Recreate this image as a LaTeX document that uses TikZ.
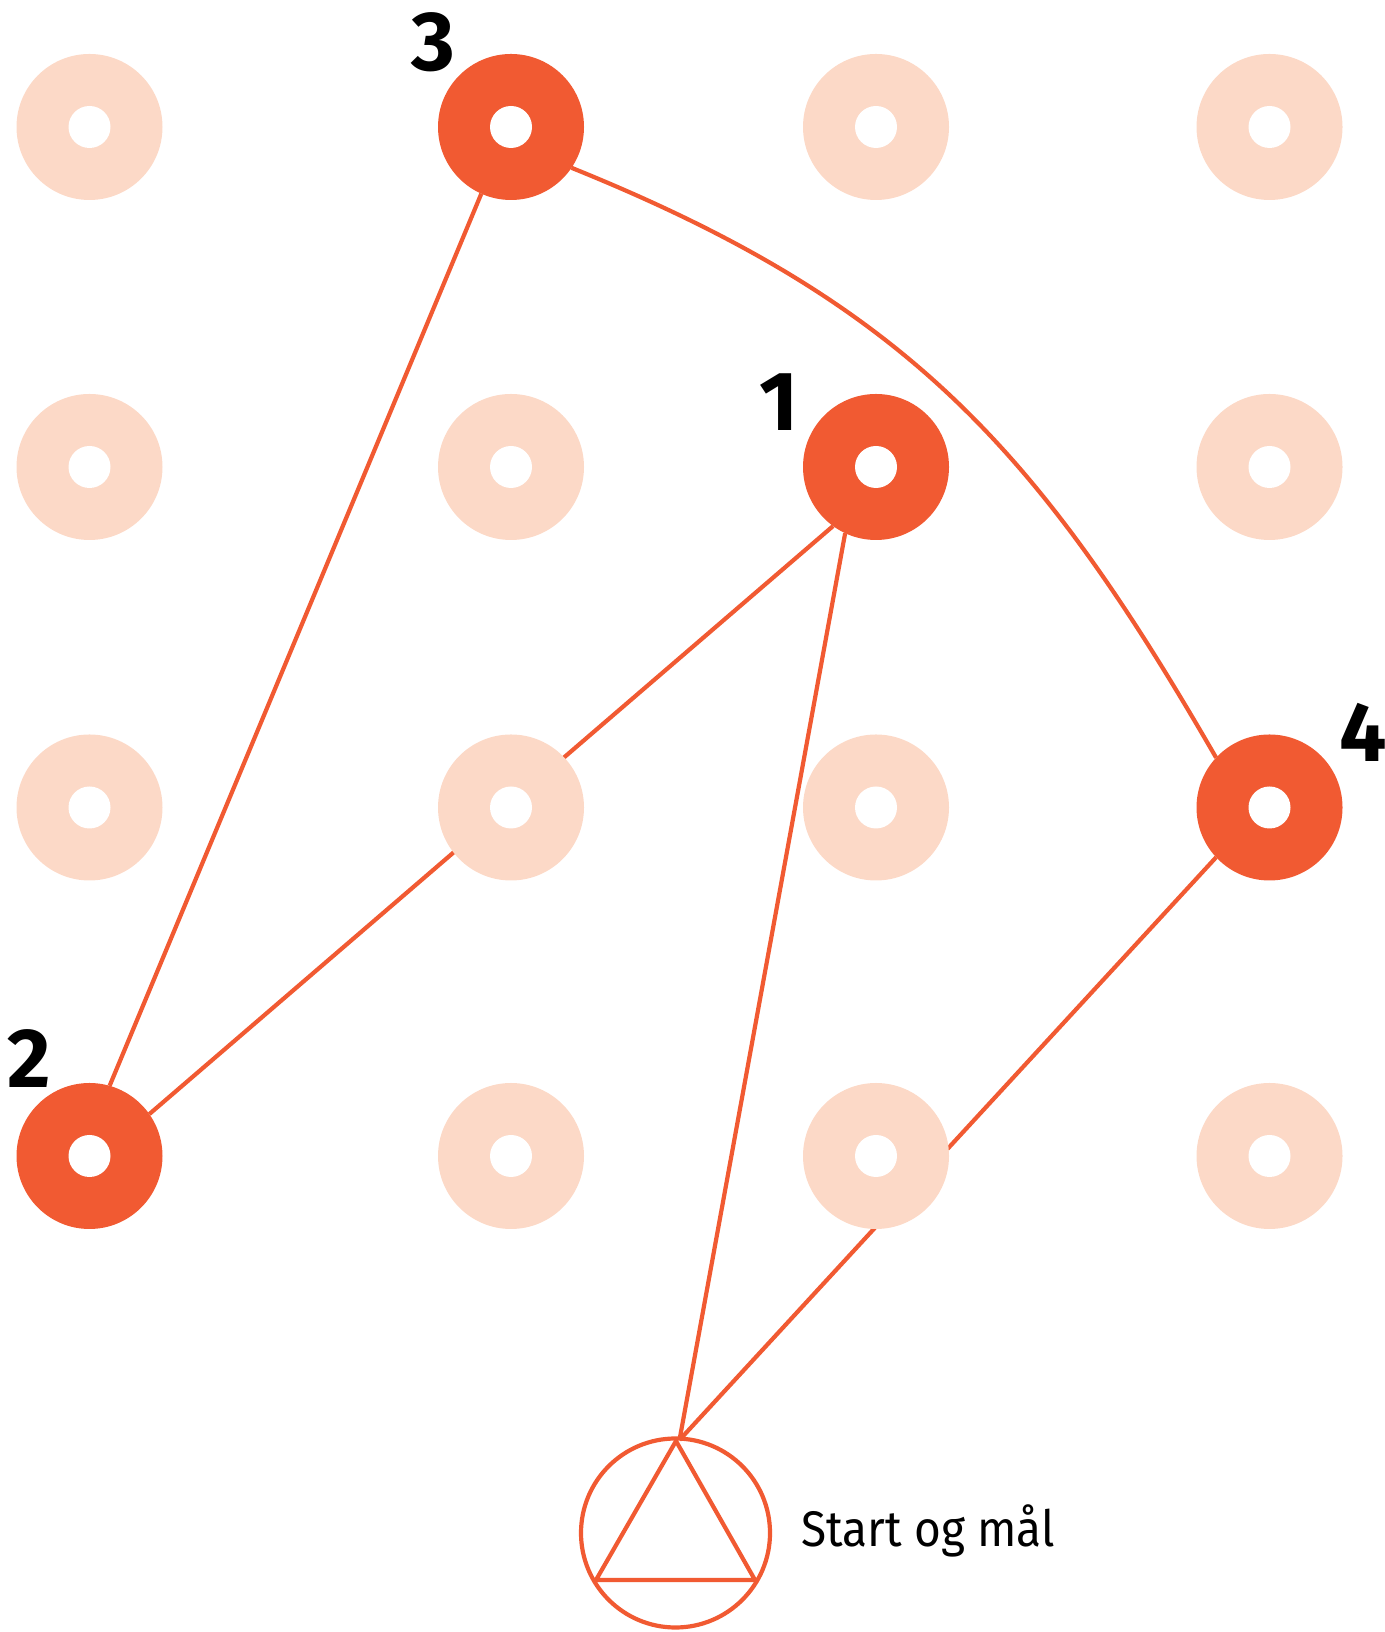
\documentclass[tikz,border=0pt]{standalone}
\usepackage{fontspec}
\setmainfont{Fira Sans}
\usetikzlibrary{backgrounds}
\definecolor{ora}{HTML}{F15A32}
\definecolor{pale}{HTML}{FCD9C7}
\begin{document}
\begin{tikzpicture}[x=1pt,y=1pt,
  ring/.style={circle,fill=#1,minimum size=146pt,inner sep=0pt,outer sep=0pt},
  route/.style={draw=ora,line width=4.2pt},
  num/.style={font=\fontsize{84}{84}\selectfont\bfseries,inner sep=0pt,text=black},
]
\useasboundingbox (0,0) rectangle (1384,1632);
% pale grid dots
\foreach \n/\x/\y in {g11/89.5/1505, g31/876/1505, g41/1269.5/1505,
                      g12/89.5/1165, g22/511/1165, g42/1269.5/1165,
                      g13/89.5/824.5, g23/511/824.5, g33/876/824.5,
                      g24/511/476, g34/876/476, g44/1269.5/476}
  {\node[ring=pale] (\n) at (\x,\y) {};}
% active dots
\node[ring=ora] (g21) at (511,1505) {};
\node[ring=ora] (g32) at (876,1165) {};
\node[ring=ora] (g43) at (1269.5,824.5) {};
\node[ring=ora] (g14) at (89.5,476) {};
% holes
\foreach \n in {g11,g21,g31,g41,g12,g22,g32,g42,g13,g23,g33,g43,g14,g24,g34,g44}
  {\fill[white] (\n.center) circle (21);}
% start
\node[circle,draw=ora,line width=4.2pt,minimum size=189pt,inner sep=0pt] (start) at (675.5,99) {};
\coordinate (top) at (676,191);
\coordinate (bl) at (596,52);
\coordinate (br) at (755,52);
\coordinate (apex) at (679.5,192);
\draw[route,line join=miter] (top) -- (bl) -- (br) -- cycle;
% connectors
\begin{scope}[on background layer]
\draw[route] (g21.246) -- (g14.74);
\draw[route] (g32.234.4) -- (g14.35.2);
\draw[route] (g32.245.5) -- (apex);
\draw[route] (g43.223.2) -- (apex);
\draw[route] (g21.326.8) to[out=-22,in=120,looseness=1.05] (g43.137.9);
\end{scope}
% labels
\node[num] (l3) at (433,1589.3) {3};
\node[num] (l1) at (779,1230) {1};
\node[num] (l4) at (1363,900) {4};
\node[num] (l2) at (29,573.5) {2};
\node[anchor=base west,font=\fontsize{50}{50}\selectfont,inner sep=0pt] (lbl) at (801,85.3) {\scalebox{0.92}[1]{Start og mål}};
\end{tikzpicture}
\end{document}
